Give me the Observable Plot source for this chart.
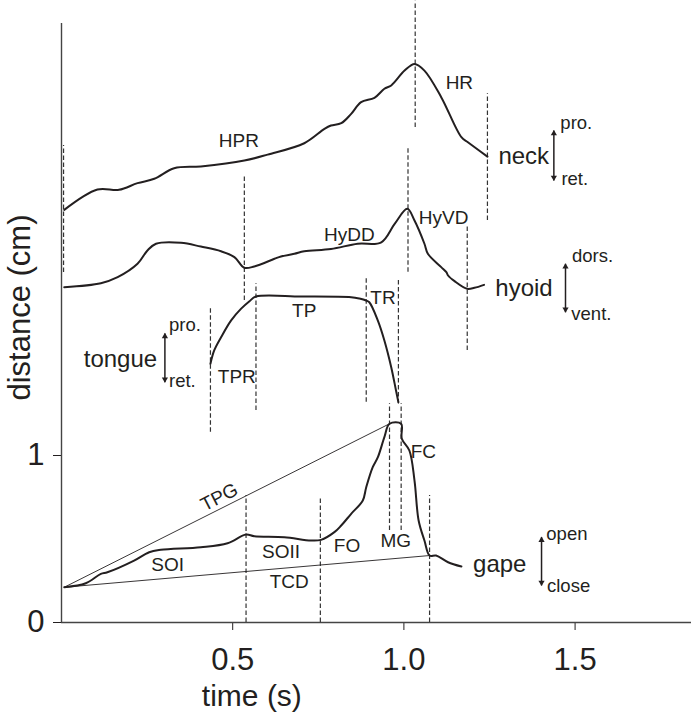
<!DOCTYPE html>
<html><head><meta charset="utf-8">
<script src="https://cdn.jsdelivr.net/npm/d3@7"></script>
<script src="https://cdn.jsdelivr.net/npm/@observablehq/plot@0.6"></script>
<style>body{margin:0;background:#fff} svg{display:block}</style>
</head><body><div id="chart"></div>
<script>
// ---- data (time in s, distance in cm) ----
const neck = [[0.008,2.471],[0.105,2.593],[0.168,2.591],[0.222,2.631],[0.271,2.657],[0.329,2.720],[0.407,2.731],[0.534,2.766],[0.602,2.802],[0.709,2.870],[0.768,2.956],[0.787,2.976],[0.817,2.990],[0.846,3.046],[0.875,3.116],[0.914,3.142],[0.943,3.196],[0.963,3.216],[1.002,3.305],[1.031,3.345],[1.060,3.305],[1.109,3.146],[1.168,2.906],[1.187,2.876],[1.244,2.790]];
const hyoid = [[0.008,2.008],[0.115,2.032],[0.164,2.068],[0.222,2.148],[0.251,2.228],[0.276,2.268],[0.349,2.274],[0.407,2.251],[0.466,2.223],[0.505,2.188],[0.534,2.124],[0.563,2.132],[0.622,2.178],[0.641,2.192],[0.680,2.208],[0.709,2.223],[0.787,2.237],[0.865,2.268],[0.934,2.277],[0.973,2.387],[1.010,2.477],[1.031,2.407],[1.060,2.268],[1.070,2.208],[1.109,2.128],[1.124,2.098],[1.129,2.078],[1.148,2.044],[1.185,1.998],[1.206,2.004],[1.234,2.022]];
const tongue = [[0.435,1.549],[0.446,1.629],[0.466,1.708],[0.495,1.808],[0.524,1.878],[0.549,1.924],[0.568,1.952],[0.700,1.952],[0.846,1.948],[0.870,1.940],[0.890,1.928],[0.899,1.918],[0.924,1.808],[0.943,1.689],[0.963,1.529],[0.977,1.389],[0.984,1.319]];
const gape = [[0.008,0.211],[0.071,0.235],[0.115,0.291],[0.134,0.301],[0.212,0.371],[0.256,0.421],[0.290,0.435],[0.407,0.451],[0.485,0.475],[0.539,0.527],[0.563,0.517],[0.651,0.511],[0.729,0.491],[0.758,0.495],[0.797,0.541],[0.817,0.581],[0.846,0.651],[0.880,0.731],[0.890,0.810],[0.909,0.930],[0.924,0.990],[0.943,1.110],[0.958,1.190],[0.992,1.190],[0.994,1.100],[1.016,1.030],[1.031,0.850],[1.043,0.611],[1.060,0.491],[1.075,0.401],[1.094,0.401],[1.129,0.361],[1.168,0.335]];

// phase boundaries: [time, lower, upper]
const dashes = [[0.006,2.096,2.856],[1.033,2.964,3.72],[1.244,2.407,3.166],
  [0.534,1.928,2.677],[1.012,2.098,2.846],[1.185,1.629,2.377],
  [0.435,1.140,1.888],[0.568,1.269,2.028],[0.890,1.319,2.068],[0.984,1.309,2.048],
  [0.539,0,0.760],[0.756,0,0.754],[0.958,0.551,1.31],[0.992,0.551,1.31],[1.075,0,0.760]];

// gape reference lines (TPG, TCD): [t1, v1, t2, v2]
const guides = [[0.008,0.211,0.958,1.190],[0.008,0.211,1.075,0.401]];

const phaseNames = ["HPR","HR","HyDD","HyVD","TP","TPR","TR","SOI","SOII","TCD","FO","MG","FC"];
const phaseT = [0.518,1.162,0.841,1.116,0.709,0.512,0.939,0.310,0.641,0.665,0.834,0.976,1.057];
const phaseV = [2.883,3.232,2.320,2.423,1.865,1.470,1.944,0.344,0.422,0.242,0.457,0.487,1.020];
const tpgLabel = [["TPG",0.461,0.750]];

const curveNames = ["neck","hyoid","tongue","gape"];
const curveT = [1.276,1.267,0.065,1.202];
const curveV = [2.790,2.000,1.575,0.347];

const dirNames = ["pro.","ret.","dors.","vent.","pro.","ret.","open","close"];
const dirT = [1.457,1.460,1.491,1.489,0.314,0.314,1.416,1.418];
const dirV = [2.993,2.653,2.194,1.849,1.784,1.446,0.527,0.218];

// double arrows: [t, low, high]
const arrows = [[1.438,2.647,2.946],[1.472,1.858,2.148],[0.302,1.439,1.731],[1.402,0.222,0.511]];

const xTicks = [0.5,1.0,1.5];
const yTicks = [0,1];

const ink = "#231f20";
const font = "Arial, 'Liberation Sans', Helvetica, sans-serif";
const curves = [neck, hyoid, tongue, gape];

const chart = Plot.plot({
  width: 691, height: 717,
  marginLeft: 61, marginRight: 0, marginTop: 23, marginBottom: 95,
  style: {fontFamily: font, fontSize: "31px", color: ink, background: "#fff", overflow: "visible"},
  x: {domain: [0, 1.84], ticks: xTicks, tickFormat: d3.format(".1f"), tickSize: 8, tickPadding: 17, label: null},
  y: {domain: [0, 3.587], ticks: yTicks, tickFormat: d3.format("d"), tickSize: 8, tickPadding: 9, label: null},
  marks: [
    Plot.ruleX([0], {stroke: "#444", strokeWidth: 1.4}),
    Plot.ruleY([0], {stroke: "#444", strokeWidth: 1.4}),
    Plot.ruleX(dashes, {x: d => d[0], y1: d => d[1], y2: d => d[2], stroke: "#333", strokeWidth: 1.2, strokeDasharray: "4.5,2.5"}),
    Plot.link(guides, {x1: d => d[0], y1: d => d[1], x2: d => d[2], y2: d => d[3], stroke: ink, strokeWidth: 0.9}),
    ...curves.map(c => Plot.line(c, {x: d => d[0], y: d => d[1], stroke: ink, strokeWidth: 2, strokeLinejoin: "round", curve: "catmull-rom"})),
    Plot.text(phaseNames, {x: (d, i) => phaseT[i], y: (d, i) => phaseV[i], text: d => d, fontSize: 19, fill: ink}),
    Plot.text(tpgLabel, {x: d => d[1], y: d => d[2], text: d => d[0], fontSize: 19, fill: ink, rotate: -27}),
    Plot.text(curveNames, {x: (d, i) => curveT[i], y: (d, i) => curveV[i], text: d => d, fontSize: 24, textAnchor: "start", fill: ink}),
    Plot.text(dirNames, {x: (d, i) => dirT[i], y: (d, i) => dirV[i], text: d => d, fontSize: 18.5, textAnchor: "start", fill: ink}),
    Plot.link(arrows, {x1: d => d[0], x2: d => d[0], y1: d => d[1], y2: d => d[2], stroke: ink, strokeWidth: 1.5}),
    Plot.dot(arrows, {x: d => d[0], y: d => d[2], symbol: "triangle", r: 2.3, fill: ink, stroke: "none", dy: 3}),
    Plot.dot(arrows, {x: d => d[0], y: d => d[1], symbol: "triangle", r: 2.3, fill: ink, stroke: "none", rotate: 180, dy: -3}),
    Plot.text(["time (s)"], {x: 0.556, y: -0.44, text: d => d, fontSize: 30, fill: ink}),
    Plot.text(["distance (cm)"], {x: -0.12, y: 1.886, text: d => d, fontSize: 31, rotate: -90, fill: ink})
  ]
});
document.getElementById("chart").append(chart);
</script>
</body></html>
